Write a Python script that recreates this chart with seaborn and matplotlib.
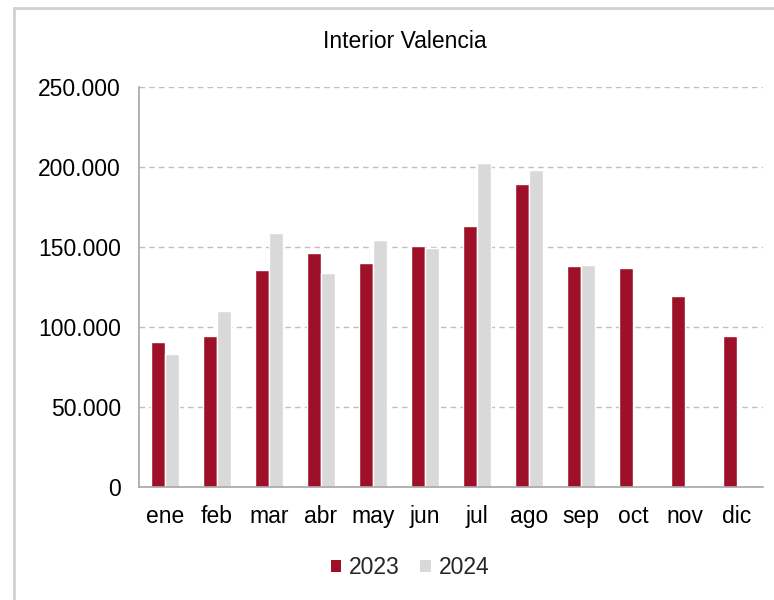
import matplotlib
matplotlib.use("Agg")
import matplotlib.pyplot as plt
import seaborn as sns
import pandas as pd
from matplotlib.lines import Line2D
from matplotlib.patches import Patch
from matplotlib.ticker import FuncFormatter

months = ["ene", "feb", "mar", "abr", "may", "jun", "jul", "ago", "sep", "oct", "nov", "dic"]
v2023 = [90600, 94200, 135400, 146500, 140200, 150400, 162900, 189200, 137900, 136900, 119400, 94200]
v2024 = [83100, 110200, 159000, 134000, 154200, 149600, 202500, 197900, 138900, None, None, None]
years = ["2023", "2024"]
colors = {"2023": "#9E1027", "2024": "#D9D9D9"}

rows = []
for m, a, b in zip(months, v2023, v2024):
    rows.append({"mes": m, "año": "2023", "valor": a})
    rows.append({"mes": m, "año": "2024", "valor": b})
df = pd.DataFrame(rows)

sns.set_theme(style="white")
plt.rcParams["font.family"] = ["Liberation Sans", "DejaVu Sans"]

fig = plt.figure(figsize=(7.74, 6.0), dpi=100)
ax = fig.add_axes([139/774, 1-487/600, (763-139)/774, (487-87)/600])

sns.barplot(data=df, x="mes", y="valor", hue="año", order=months, hue_order=years,
            palette=colors, width=0.54, edgecolor="white", linewidth=1.0,
            saturation=1, ax=ax, legend=False)

ax.set_ylim(0, 250000)
ax.set_xlim(-0.5, 11.5)
ax.set_yticks([0, 50000, 100000, 150000, 200000, 250000])
ax.yaxis.set_major_formatter(FuncFormatter(lambda v, p: f"{int(v):,}".replace(",", ".")))
ax.yaxis.grid(True, linestyle=(0, (4, 3)), color="#BFBFBF", linewidth=1.0)
ax.set_axisbelow(True)
ax.set_xlabel("")
ax.set_ylabel("")
ax.tick_params(axis="both", labelsize=16.5, colors="#000000", length=0)
ax.tick_params(axis="y", pad=13)
ax.tick_params(axis="x", pad=13)
for s in ["top", "right"]:
    ax.spines[s].set_visible(False)
for s in ["left", "bottom"]:
    ax.spines[s].set_color("#A6A6A6")
    ax.spines[s].set_linewidth(1.2)

fig.text(405/774, 1-42/600, "Interior Valencia", ha="center", va="center", fontsize=16.5, color="#000000")

handles = [Patch(facecolor=colors[y], edgecolor="none", label=y) for y in years]
fig.legend(handles=handles, loc="center", bbox_to_anchor=(410/774, 1-568/600), ncol=2,
           frameon=False, fontsize=16.5, handlelength=0.45, handleheight=0.45,
           handletextpad=0.35, columnspacing=0.9)

fig.add_artist(Line2D([14/774, 14/774], [0, 1-8/600], transform=fig.transFigure, color="#D0D0D0", linewidth=2))
fig.add_artist(Line2D([14/774, 1], [1-8/600, 1-8/600], transform=fig.transFigure, color="#D0D0D0", linewidth=2))

fig.savefig("out.png", dpi=100)
